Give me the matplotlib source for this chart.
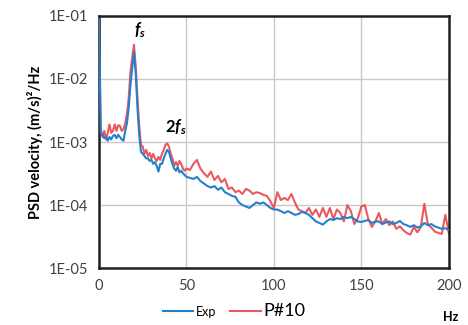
import matplotlib.pyplot as plt
import numpy as np
from matplotlib.ticker import FixedLocator, FuncFormatter

plt.rcParams["font.family"] = ["Lato", "DejaVu Sans"]
plt.rcParams["mathtext.fontset"] = "custom"
plt.rcParams["mathtext.it"] = "Lato:bold:italic"
plt.rcParams["mathtext.rm"] = "Lato:bold"

# ----- Data: 1 Hz steps up to 50 Hz, then 2 Hz steps ----- #
freq = np.concatenate([np.arange(0, 51, 1), np.arange(52, 201, 2)])

psd_exp = [
    9e-2, 1.4e-3, 1.3e-3, 1.15e-3, 1.2e-3, 1.05e-3, 1.2e-3, 1.1e-3, 1.25e-3, 1.3e-3,
    1.15e-3, 1.3e-3, 1.2e-3, 1.1e-3, 1.05e-3, 1.5e-3, 2.0e-3, 3.5e-3, 8e-3, 1.5e-2,
    2.7e-2, 1.2e-2, 3.5e-3, 1.3e-3, 7e-4, 6.5e-4, 6e-4, 5.5e-4, 5.5e-4, 5e-4,
    5.2e-4, 4.5e-4, 4.8e-4, 4.2e-4, 3.4e-4, 4.5e-4, 4.5e-4, 5.5e-4, 6.5e-4, 7.5e-4,
    7e-4, 5.5e-4, 4.5e-4, 3.8e-4, 3.5e-4, 4e-4, 3.3e-4, 3.5e-4, 3.2e-4, 3.0e-4,
    2.8e-4,
    2.7e-4, 2.6e-4, 2.8e-4, 2.4e-4, 2.2e-4, 2.0e-4, 1.9e-4, 2.0e-4, 1.75e-4, 1.9e-4,
    1.6e-4, 1.5e-4, 1.4e-4, 1.35e-4, 1.1e-4, 1.0e-4, 9.5e-5, 9e-5, 1.0e-4, 1.1e-4,
    1.05e-4, 1.1e-4, 1.0e-4, 9e-5, 8.5e-5, 8.5e-5, 8e-5, 7.5e-5, 8e-5, 7.5e-5,
    7e-5, 7.2e-5, 7.8e-5, 7.5e-5, 7e-5, 6.2e-5, 5.5e-5, 5.2e-5, 4.9e-5, 5.5e-5,
    6e-5, 5.8e-5, 6.2e-5, 6e-5, 6.5e-5, 6.2e-5, 6.5e-5, 6e-5, 5.5e-5, 5.4e-5,
    5.6e-5, 5.8e-5, 5.2e-5, 5.5e-5, 5.5e-5, 5e-5, 5.3e-5, 5.5e-5, 5e-5, 5.2e-5,
    5.6e-5, 5e-5, 4.8e-5, 4.5e-5, 4.8e-5, 4.4e-5, 4.6e-5, 5.2e-5, 4.8e-5, 5.0e-5,
    4.6e-5, 4.4e-5, 4.2e-5, 4.3e-5, 4.0e-5,
]

psd_p10 = [
    1.1e-1, 1.6e-3, 1.2e-3, 1.5e-3, 1.1e-3, 1.4e-3, 1.9e-3, 1.4e-3, 1.5e-3, 1.9e-3,
    1.5e-3, 1.85e-3, 1.8e-3, 1.5e-3, 1.6e-3, 2.0e-3, 2.8e-3, 5e-3, 1.3e-2, 2.2e-2,
    3.5e-2, 1.6e-2, 5e-3, 1.8e-3, 9e-4, 8.5e-4, 6.5e-4, 7.5e-4, 6e-4, 6.7e-4,
    5.5e-4, 6.5e-4, 5.5e-4, 5e-4, 5.8e-4, 5.2e-4, 6.5e-4, 7.5e-4, 9e-4, 9.5e-4,
    8.5e-4, 6.5e-4, 5.5e-4, 4.2e-4, 4.8e-4, 4.2e-4, 5e-4, 4.5e-4, 3.8e-4, 3.5e-4,
    3.8e-4,
    3.6e-4, 4.5e-4, 5.2e-4, 3.8e-4, 3.2e-4, 2.8e-4, 3.4e-4, 2.5e-4, 2.9e-4, 2.3e-4,
    2.6e-4, 1.8e-4, 1.9e-4, 1.6e-4, 1.7e-4, 1.5e-4, 1.8e-4, 1.7e-4, 1.5e-4, 1.6e-4,
    1.55e-4, 1.45e-4, 1.4e-4, 1.15e-4, 9e-5, 1.6e-4, 1.2e-4, 1.3e-4, 1.2e-4, 1.5e-4,
    1.1e-4, 8.5e-5, 8e-5, 7.5e-5, 9e-5, 7e-5, 8.5e-5, 6.5e-5, 9e-5, 6.5e-5,
    9e-5, 6e-5, 8.5e-5, 7.5e-5, 5.5e-5, 1.0e-4, 8e-5, 5e-5, 6.2e-5, 9.5e-5,
    1.0e-4, 6e-5, 4.5e-5, 5.5e-5, 7.5e-5, 5e-5, 6e-5, 4.8e-5, 5.5e-5, 4.2e-5,
    4.6e-5, 4e-5, 3.6e-5, 3.4e-5, 4.5e-5, 3.7e-5, 4.5e-5, 1.05e-4, 5e-5, 4.4e-5,
    3.8e-5, 3.6e-5, 3.5e-5, 7e-5, 3.6e-5,
]

x_ticks = [0, 50, 100, 150, 200]
y_ticks = [1e-5, 1e-4, 1e-3, 1e-2, 1e-1]

fig = plt.figure(figsize=(4.68, 3.25), dpi=100)
ax = fig.add_axes([0.2115, 0.175, 0.7475, 0.776])

ax.plot(freq, psd_exp, color="#2580CC", linewidth=1.5, label="Exp", zorder=3)
ax.plot(freq, psd_p10, color="#E8474C", linewidth=1.5, alpha=0.9, label="P#10", zorder=2)

ax.set_yscale("log")
ax.set_xlim(0, 200)
ax.set_ylim(1e-5, 1e-1)
ax.xaxis.set_major_locator(FixedLocator(x_ticks))
ax.yaxis.set_major_locator(FixedLocator(y_ticks))
ax.yaxis.set_minor_locator(FixedLocator([]))
ax.yaxis.set_major_formatter(FuncFormatter(lambda v, p: f"1E-{int(round(-np.log10(v))):02d}"))
ax.tick_params(axis="both", length=0, labelsize=10.5, colors="#404040", pad=8)
ax.grid(True, color="#C8C8C8", linewidth=1.0)
for sp in ax.spines.values():
    sp.set_linewidth(1.8)
    sp.set_color("#202020")

ax.set_ylabel("PSD velocity, (m/s)²/Hz", fontsize=10.5, fontweight="bold", labelpad=4)
fig.text(0.962, 0.005, "Hz", fontsize=9, fontweight="bold", ha="center", va="bottom")

ax.text(23.5, 0.06, r"$f_s$", fontsize=12, ha="center", va="center")
ax.text(44, 1.75e-3, r"$2f_s$", fontsize=12, ha="center", va="center")

leg = fig.legend(loc="lower center", bbox_to_anchor=(0.5, -0.02), ncol=2, frameon=False,
                 handlelength=2.2, handletextpad=0.2, columnspacing=1.0)
leg.get_texts()[0].set_fontsize(9)
leg.get_texts()[1].set_fontsize(13)

fig.savefig("out.png", dpi=100)
